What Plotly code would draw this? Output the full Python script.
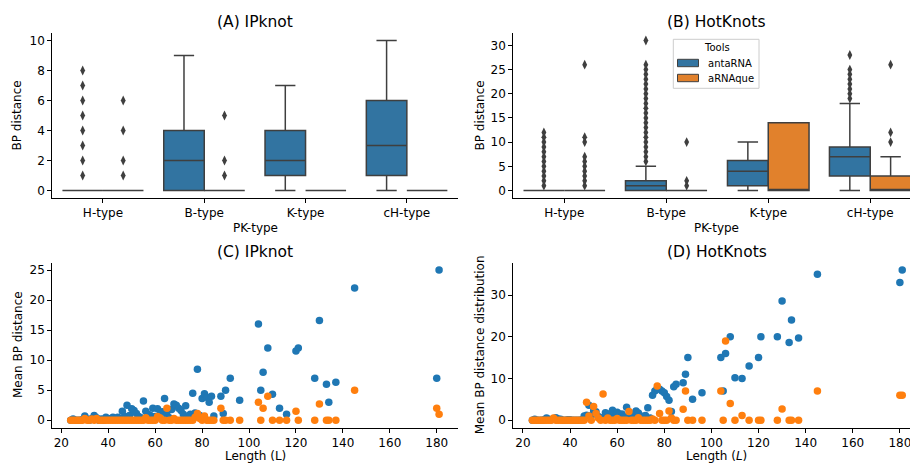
import plotly.graph_objects as go

W, H = 910, 463

# ---------------- data ----------------
pk_types = ["H-type", "B-type", "K-type", "cH-type"]
tools = ["antaRNA", "aRNAque"]

# (A) IPknot box statistics per PK-type
A_anta_q1 = [0, 0, 1, 1]
A_anta_med = [0, 2, 2, 3]
A_anta_q3 = [0, 4, 4, 6]
A_anta_lo = [0, 0, 0, 0]
A_anta_hi = [0, 9, 7, 10]
A_arna_q1 = [0, 0, 0, 0]
A_arna_med = [0, 0, 0, 0]
A_arna_q3 = [0, 0, 0, 0]
A_arna_lo = [0, 0, 0, 0]
A_arna_hi = [0, 0, 0, 0]
A_anta_out = [[1, 2, 3, 4, 5, 6, 7, 8], [], [], []]
A_arna_out = [[1, 2, 4, 6], [1, 2, 5], [], []]

# (B) HotKnots box statistics per PK-type
B_anta_q1 = [0, 0, 1, 3]
B_anta_med = [0, 1, 4, 7]
B_anta_q3 = [0, 2, 6.2, 9]
B_anta_lo = [0, 0, 0, 0]
B_anta_hi = [0, 5, 10, 18]
B_arna_q1 = [0, 0, 0, 0]
B_arna_med = [0, 0, 0, 0]
B_arna_q3 = [0, 0, 14, 3]
B_arna_lo = [0, 0, 0, 0]
B_arna_hi = [0, 0, 14, 7]
B_anta_out = [[1, 2, 3, 4, 5, 6, 7, 8, 9, 10, 11, 12],
              [6, 7, 8, 9, 10, 11, 12, 13, 14, 15, 16, 17, 18, 19, 20, 21, 22, 23, 24, 25, 26, 31],
              [],
              [19, 20, 21, 22, 23, 24, 25, 28]]
B_arna_out = [[1, 2, 3, 4, 5, 6, 7, 10, 11, 26], [1, 2, 10], [], [10, 12, 26]]

# (C)/(D) sequence lengths and mean BP distances
lengths = [24, 25, 26, 27, 28, 29, 30, 31, 32, 33, 34, 35, 36, 37, 38, 39, 40, 41, 42, 43,
           44, 45, 46, 47, 48, 49, 50, 51, 52, 53, 54, 55, 56, 57, 58, 59, 60, 61, 62, 63,
           64, 65, 66, 67, 68, 69, 70, 71, 72, 73, 74, 75, 76, 77, 78, 79, 80, 81, 82, 83,
           84, 85, 88, 89, 90, 92, 96, 104, 105, 106, 108, 110, 113, 116, 120, 121, 128, 130,
           133, 134, 137, 145, 180, 181]

C_anta = [0, 0.2, 0, 0, 0, 0.1, 0.7, 0.2, 0, 0.3, 0.8, 0.4, 0, 0.2, 0, 0.5, 0.2, 0.3, 0.5, 0.2,
          0.5, 0.3, 1.5, 0.6, 2.5, 0.8, 1.9, 1.6, 1.1, 0.6, 0.4, 3.2, 1.5, 1.0, 0.8, 2.0, 0.6, 1.9, 0.9, 1.4,
          3.6, 0.9, 0.4, 1.8, 2.7, 2.5, 2.0, 1.6, 1.0, 2.4, 0.5, 1.0, 4.5, 1.2, 8.5, 0.8, 3.6, 4.4, 3.8, 3.0,
          4.0, 0.7, 4.0, 1.1, 5.0, 7.0, 3.3, 16, 5.0, 8.0, 12, 4.3, 2.0, 1.0, 11.5, 12, 7.0, 16.6,
          6.0, 3.0, 6.3, 22, 7, 25]
C_arna = [0, 0, 0, 0, 0, 0, 0.3, 0, 0, 0.2, 0, 0.3, 0, 0, 0, 0, 0, 0, 0, 0,
          0, 0, 0, 0, 0, 0, 0, 0, 0, 0, 0, 0, 0.4, 0, 0, 0, 0, 0.6, 0.4, 0,
          0, 2.0, 0, 0, 0.3, 0, 0, 0, 0, 0, 0, 0, 0, 0.5, 1.1, 0.3, 0, 0.7, 0, 0,
          0, 0, 2.0, 0, 0, 0, 0, 3.0, 0, 2.0, 4.0, 0, 0, 0, 1.5, 0, 0, 2.7,
          0, 0, 0, 5, 2, 1]
D_anta = [0, 0.2, 0, 0, 0, 0.1, 0.5, 0.2, 0.1, 0.3, 0.6, 0.3, 0.2, 0, 0, 0.1, 0.1, 0, 0, 0,
          0, 0.1, 1.0, 1.2, 3.6, 1.1, 2.2, 2.0, 0.9, 0.6, 0.3, 1.8, 1.5, 0.8, 2.4, 1.0, 1.9, 1.4, 1.5, 0.8,
          3.1, 1.0, 0.8, 1.5, 2.2, 1.7, 1.0, 0.9, 1.1, 3.0, 0.5, 6.0, 7.0, 7.6, 7.4, 7.0, 6.6, 5.7, 4.8, 2.1,
          8.0, 8.6, 9.0, 11, 15, 5.0, 6.6, 15, 7.0, 16, 20, 10.2, 10, 13, 15, 20, 20, 28.6,
          18.6, 24, 19.7, 35, 33, 36]
D_arna = [0, 0, 0, 0, 0, 0, 0, 0, 0, 0.5, 0, 0, 0, 0, 0, 0, 0, 0, 0, 0,
          0, 0, 0, 4.3, 1.0, 0, 3.3, 1.6, 0.5, 0, 6.3, 0, 0.5, 0, 0, 0, 0.4, 0, 0, 0,
          0, 2.1, 0, 0, 0, 0.6, 0, 0, 0, 0, 0, 0.3, 0, 8.2, 1.6, 0, 0, 0, 2.2, 0.5,
          0, 0, 2.6, 7.0, 0, 0, 0, 7.0, 0, 19, 4.0, 0, 1.1, 0, 0, 0, 0, 2.7,
          0, 0, 0, 7, 6, 6]

# ---------------- styling ----------------
BOX_BLUE = "#3274a1"
BOX_ORANGE = "#e1812c"
GRAY = "#3f3f3f"
SC_BLUE = "#1f77b4"
SC_ORANGE = "#ff7f0e"
FONT = "DejaVu Sans"

fig = go.Figure()
cat_pos = list(range(len(pk_types)))


def add_boxes(xa, ya, q1, med, q3, lo, hi, offset, color, name):
    pos = [p + offset for p in cat_pos]
    fig.add_trace(go.Box(
        x=pos, q1=q1, median=med, q3=q3, lowerfence=lo, upperfence=hi,
        width=0.4, fillcolor=color, line=dict(color=GRAY, width=1.5),
        whiskerwidth=0.5, boxpoints=False, name=name, showlegend=False,
        xaxis=xa, yaxis=ya, hoverinfo="skip"))


def add_outliers(xa, ya, outs, offset):
    xs, ys = [], []
    for i, vals in enumerate(outs):
        for v in vals:
            xs.append(cat_pos[i] + offset)
            ys.append(v)
    fig.add_trace(go.Scatter(
        x=xs, y=ys, mode="markers", showlegend=False, xaxis=xa, yaxis=ya,
        marker=dict(symbol="diamond-tall", size=7, color=GRAY, line=dict(width=0))))


add_boxes("x", "y", A_anta_q1, A_anta_med, A_anta_q3, A_anta_lo, A_anta_hi, -0.2, BOX_BLUE, tools[0])
add_boxes("x", "y", A_arna_q1, A_arna_med, A_arna_q3, A_arna_lo, A_arna_hi, 0.2, BOX_ORANGE, tools[1])
add_outliers("x", "y", A_anta_out, -0.2)
add_outliers("x", "y", A_arna_out, 0.2)

add_boxes("x2", "y2", B_anta_q1, B_anta_med, B_anta_q3, B_anta_lo, B_anta_hi, -0.2, BOX_BLUE, tools[0])
add_boxes("x2", "y2", B_arna_q1, B_arna_med, B_arna_q3, B_arna_lo, B_arna_hi, 0.2, BOX_ORANGE, tools[1])
add_outliers("x2", "y2", B_anta_out, -0.2)
add_outliers("x2", "y2", B_arna_out, 0.2)

for xa, ya, s1, s2 in [("x3", "y3", C_anta, C_arna), ("x4", "y4", D_anta, D_arna)]:
    fig.add_trace(go.Scatter(x=lengths, y=s1, mode="markers", showlegend=False,
                             xaxis=xa, yaxis=ya,
                             marker=dict(size=7.5, color=SC_BLUE, line=dict(width=0))))
    fig.add_trace(go.Scatter(x=lengths, y=s2, mode="markers", showlegend=False,
                             xaxis=xa, yaxis=ya,
                             marker=dict(size=7.5, color=SC_ORANGE, line=dict(width=0))))


def px_x(p):
    return p / W


def px_y(p):
    return 1 - p / H


axis_common = dict(showline=True, linecolor="black", linewidth=1, ticks="outside",
                   ticklen=4, tickwidth=1, tickcolor="black", showgrid=False,
                   zeroline=False, automargin=False, ticklabeloverflow="allow",
                   tickfont=dict(family=FONT, size=12, color="black"))

dom_top = [px_y(198), px_y(33)]
dom_bot = [px_y(427.7), px_y(262.5)]
dom_left = [px_x(52.3), px_x(457.5)]
dom_right = [px_x(513.3), 1.0]

fig.update_layout(
    template="none",
    width=W, height=H, margin=dict(l=0, r=0, t=0, b=0, pad=0),
    paper_bgcolor="white", plot_bgcolor="white", showlegend=False,
    font=dict(family=FONT, size=12, color="black"),
    xaxis=dict(axis_common, domain=dom_left, range=[-0.5, 3.5], tickvals=cat_pos,
               ticktext=pk_types, anchor="y"),
    yaxis=dict(axis_common, domain=dom_top, range=[-0.5, 10.5], tickvals=[0, 2, 4, 6, 8, 10],
               anchor="x"),
    xaxis2=dict(axis_common, domain=dom_right, range=[-0.5, 3.39], tickvals=cat_pos,
                ticktext=pk_types, anchor="y2"),
    yaxis2=dict(axis_common, domain=dom_top, range=[-1.55, 32.55],
                tickvals=[0, 5, 10, 15, 20, 25, 30], anchor="x2"),
    xaxis3=dict(axis_common, domain=dom_left, range=[16.15, 188.85],
                tickvals=[20, 40, 60, 80, 100, 120, 140, 160, 180], anchor="y3"),
    yaxis3=dict(axis_common, domain=dom_bot, range=[-1.25, 26.25],
                tickvals=[0, 5, 10, 15, 20, 25], anchor="x3"),
    xaxis4=dict(axis_common, domain=dom_right, range=[15.9, 184.3],
                tickvals=[20, 40, 60, 80, 100, 120, 140, 160, 180], anchor="y4"),
    yaxis4=dict(axis_common, domain=dom_bot, range=[-1.8, 37.8],
                tickvals=[0, 10, 20, 30], anchor="x4"),
)

# manual legend for panel (B)
shapes = [
    dict(type="rect", xref="paper", yref="paper", x0=px_x(673.3), x1=px_x(759),
         y0=px_y(88.3), y1=px_y(39.3), line=dict(color="#cccccc", width=1),
         fillcolor="rgba(255,255,255,0.8)", layer="above"),
    dict(type="rect", xref="paper", yref="paper", x0=px_x(677.5), x1=px_x(698.5),
         y0=px_y(66.7), y1=px_y(59.3), line=dict(color=GRAY, width=1),
         fillcolor=BOX_BLUE, layer="above"),
    dict(type="rect", xref="paper", yref="paper", x0=px_x(677.5), x1=px_x(698.5),
         y0=px_y(81.7), y1=px_y(74.3), line=dict(color=GRAY, width=1),
         fillcolor=BOX_ORANGE, layer="above"),
]
fig.update_layout(shapes=shapes)

annots = [
    ("(A) IPknot", 255, 22, 15.5, 0, "center"),
    ("(B) HotKnots", 716.7, 22, 15.5, 0, "center"),
    ("(C) IPknot", 255, 252, 15.5, 0, "center"),
    ("(D) HotKnots", 716.7, 251.5, 15.5, 0, "center"),
    ("PK-type", 255, 228, 12, 0, "center"),
    ("PK-type", 716.7, 228, 12, 0, "center"),
    ("Length (L)", 255, 455.5, 12, 0, "center"),
    ("Length (<i>L</i>)", 716, 455.5, 12, 0, "center"),
    ("BP distance", 17, 115.5, 12, -90, "center"),
    ("BP distance", 480, 115.5, 12, -90, "center"),
    ("Mean BP distance", 18, 345, 12, -90, "center"),
    ("Mean BP distance distribution", 480, 345.3, 12, -90, "center"),
    ("Tools", 716.5, 47.5, 10, 0, "center"),
    (tools[0], 706, 63, 10, 0, "left"),
    (tools[1], 706, 78, 10, 0, "left"),
]
for text, x, y, size, ang, anc in annots:
    fig.add_annotation(text=text, x=px_x(x), y=px_y(y), xref="paper", yref="paper",
                       xanchor=anc, yanchor="middle", showarrow=False,
                       textangle=ang, font=dict(family=FONT, size=size, color="black"))

fig.write_html(
    "out.html",
    config={"displayModeBar": False, "responsive": False},
    post_script="document.body.style.margin='0';document.body.style.padding='0';"
                "document.body.style.overflow='hidden';",
)
